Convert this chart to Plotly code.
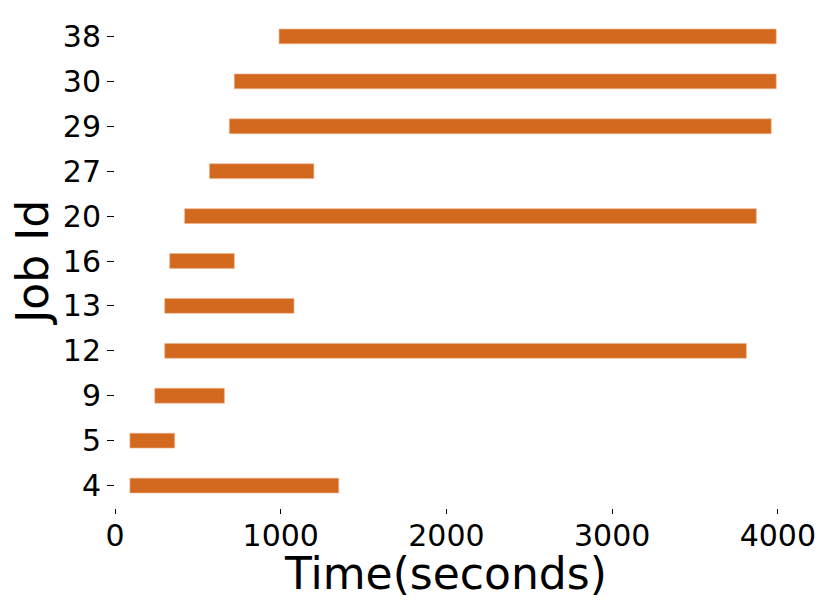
import plotly.graph_objects as go

job_ids = ["4", "5", "9", "12", "13", "16", "20", "27", "29", "30", "38"]
start_times = [90, 90, 240, 300, 300, 330, 420, 570, 690, 720, 990]
end_times = [1350, 360, 660, 3810, 1080, 720, 3870, 1200, 3960, 3990, 3990]
x_ticks = [0, 1000, 2000, 3000, 4000]

durations = [e - s for s, e in zip(start_times, end_times)]

fig = go.Figure()
fig.add_trace(go.Bar(
    y=job_ids,
    x=durations,
    base=start_times,
    orientation="h",
    width=0.33,
    marker=dict(color="#D2691E", line=dict(color="rgba(240,180,140,0.8)", width=0.8)),
    showlegend=False,
    hoverinfo="skip",
))

font = "DejaVu Sans"
fig.update_layout(
    width=830, height=614,
    margin=dict(l=115, r=18.5, t=13.5, b=105.5),
    plot_bgcolor="white", paper_bgcolor="white",
    font=dict(family=font, color="black"),
)
fig.update_xaxes(
    range=[0, 4200],
    automargin=False,
    tickvals=x_ticks,
    ticktext=[str(v) for v in x_ticks],
    ticks="outside", ticklen=5, tickwidth=1, tickcolor="black",
    ticklabelstandoff=-4,
    showline=False, showgrid=False, zeroline=False,
    tickfont=dict(size=30, family=font, color="black"),
)
fig.update_yaxes(
    type="category",
    automargin=False,
    categoryorder="array", categoryarray=job_ids,
    range=[-0.5, 10.5],
    ticks="outside", ticklen=7, tickwidth=1, tickcolor="black",
    showline=False, showgrid=False, zeroline=False,
    tickfont=dict(size=30, family=font, color="black"),
)
fig.add_annotation(
    text="Time(seconds)", xref="paper", yref="paper",
    x=0.4745, y=-0.1335, xanchor="center", yanchor="middle",
    showarrow=False, font=dict(size=44, family=font, color="black"),
)
fig.add_annotation(
    text="Job Id", xref="paper", yref="paper",
    x=-0.1183, y=0.496, xanchor="center", yanchor="middle", textangle=-90,
    showarrow=False, font=dict(size=44, family=font, color="black"),
)

fig.write_html(
    "out.html",
    config={"displayModeBar": False},
    post_script="document.body.style.margin='0';document.body.style.overflow='hidden';",
)
